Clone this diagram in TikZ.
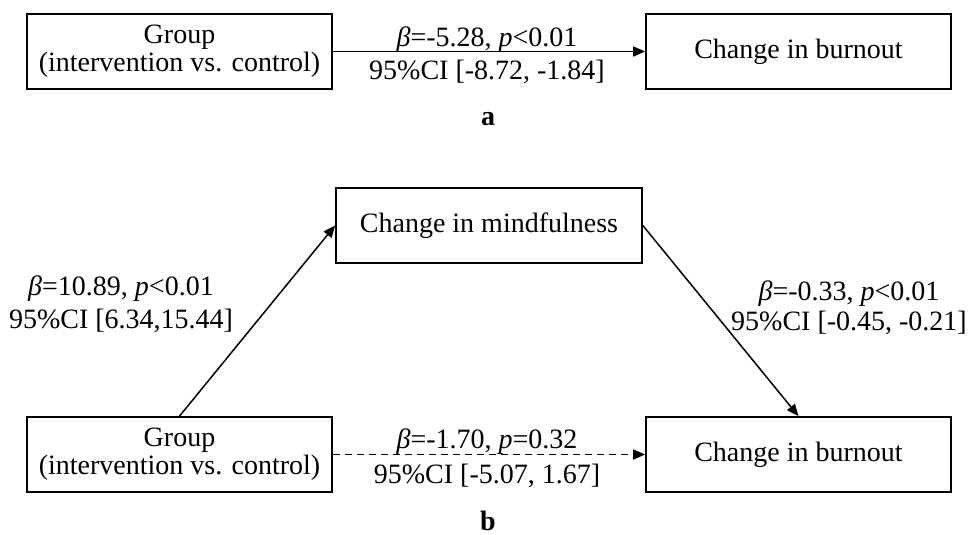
\documentclass[tikz,border=0pt]{standalone}
\usepackage{fontspec}
\setmainfont{Liberation Serif}
\usetikzlibrary{arrows.meta}
\begin{document}
\begin{tikzpicture}[x=1pt,y=-1pt,
  box/.style={draw, line width=1.7pt, minimum width=305pt, minimum height=75pt, inner sep=0pt, align=center, font=\fontsize{28}{28}\selectfont},
  lbl/.style={anchor=base, inner sep=0pt, font=\fontsize{28}{30}\selectfont},
  conn/.style={line width=1.5pt, -{Triangle[length=12pt,width=10pt]}},
  dashconn/.style={conn, dash pattern=on 7pt off 5pt},
]
\useasboundingbox (0,0) rectangle (972,535);
% panel a
\node[box] (ga) at (179.5,51.5) {Group\\(intervention vs. control)};
\node[box] (ba) at (798.5,51.5) {Change in burnout};
\draw[conn] (ga) -- (ba);
\node[lbl] (la1) at (487,47) {\textit{β}=-5.28, \textit{p}<0.01};
\node[lbl] (la2) at (487,79) {95\%CI [-8.72, -1.84]};
\node[lbl] (ta) at (488,125) {\textbf{a}};
% panel b
\node[box, minimum width=306pt] (m) at (489,225.5) {Change in mindfulness};
\node[box] (gb) at (179.5,454.5) {Group\\(intervention vs. control)};
\node[box] (bb) at (798.5,454.5) {Change in burnout};
\draw[conn] (gb.north) -- (m.west);
\draw[conn] (m.east) -- (bb.north);
\draw[dashconn] (gb) -- (bb);
\node[lbl] (lb1) at (121,295) {\textit{β}=10.89, \textit{p}<0.01};
\node[lbl] (lb2) at (121,328) {95\%CI [6.34,15.44]};
\node[lbl] (lc1) at (849,300) {\textit{β}=-0.33, \textit{p}<0.01};
\node[lbl] (lc2) at (849,330) {95\%CI [-0.45, -0.21]};
\node[lbl] (ld1) at (487,448) {\textit{β}=-1.70, \textit{p}=0.32};
\node[lbl] (ld2) at (487,483) {95\%CI [-5.07, 1.67]};
\node[lbl] (tb) at (488,530) {\textbf{b}};
\end{tikzpicture}
\end{document}
